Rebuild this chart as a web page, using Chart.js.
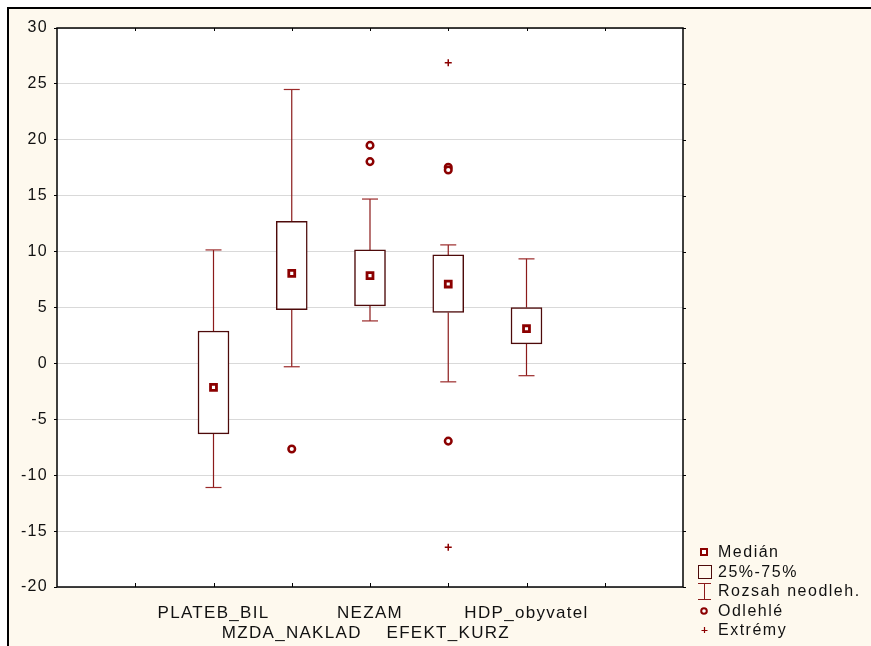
<!DOCTYPE html>
<html>
<head>
<meta charset="utf-8">
<script src="https://cdn.jsdelivr.net/npm/chart.js@4.4.1/dist/chart.umd.min.js"></script>
<style>
html, body { margin: 0; padding: 0; background: #fff; }
#frame { position: absolute; left: 7px; top: 7px; width: 864px; height: 639px; background: #fef9ee;
  border-top: 2px solid #000; border-left: 2px solid #000; box-sizing: border-box; }
#chart { position: absolute; left: 0; top: 0; }
#legend { position: absolute; left: 696px; top: 542px; font: 16px "Liberation Sans", Arial, sans-serif;
  letter-spacing: 1.5px; color: #111; }
.row { position: relative; height: 19.5px; line-height: 19.5px; padding-left: 22px; white-space: nowrap; }
.row svg { position: absolute; left: 0; top: 0; }
</style>
</head>
<body>
<div id="frame"></div>
<canvas id="chart" width="871" height="646"></canvas>
<div id="legend">
  <div class="row"><svg width="16" height="20"><rect x="5" y="7" width="6" height="6" fill="#fff" stroke="#8b0000" stroke-width="2"/></svg>Medián</div>
  <div class="row"><svg width="16" height="20"><rect x="2.5" y="3.5" width="13" height="13" fill="none" stroke="#4d0a0a" stroke-width="1"/></svg>25%-75%</div>
  <div class="row"><svg width="16" height="20"><path d="M8.5 2.5V18.5M2 2.5H15M2 18.5H15" stroke="#8b1a1a" stroke-width="1" fill="none"/></svg>Rozsah neodleh.</div>
  <div class="row"><svg width="16" height="20"><circle cx="8" cy="10" r="2.8" fill="#fff" stroke="#8b0000" stroke-width="2"/></svg>Odlehlé</div>
  <div class="row"><svg width="16" height="20"><path d="M8.5 7V13M5.5 10.5H11.5" stroke="#8b0000" stroke-width="1.2" fill="none"/></svg>Extrémy</div>
</div>
<script>
// variables and their positions on the x axis (0..8)
const categories = ['PLATEB_BIL', 'MZDA_NAKLAD', 'NEZAM', 'EFEKT_KURZ', 'HDP_obyvatel'];
const xPos = [2, 3, 4, 5, 6];

// box plot values
const medians = [-2.15, 8.05, 7.85, 7.1, 3.1];
const q1 = [-6.3, 4.8, 5.15, 4.55, 1.75];
const q3 = [2.9, 12.7, 10.15, 9.7, 5.0];
const whiskLow = [-11.1, -0.3, 3.8, -1.65, -1.1];
const whiskHigh = [10.15, 24.5, 14.7, 10.6, 9.35];
const outliers = [[], [-7.65], [19.5, 18.05], [17.55, 17.3, -6.95], []];
const extremes = [[], [], [], [26.9, -16.45], []];

const yMin = -20, yMax = 30, yStep = 5;

const dark = '#8b0000';

// whisker lines, broken with null between segments
let whiskerData = [];
xPos.forEach((x, i) => {
  whiskerData.push({x: x, y: whiskLow[i]}, {x: x, y: q1[i]}, {x: x, y: null});
  whiskerData.push({x: x, y: q3[i]}, {x: x, y: whiskHigh[i]}, {x: x, y: null});
});
let capData = [];
xPos.forEach((x, i) => { capData.push({x: x, y: whiskLow[i]}, {x: x, y: whiskHigh[i]}); });
const boxData = xPos.map((x, i) => ({x: x, y: [q1[i], q3[i]]}));
const medianData = xPos.map((x, i) => ({x: x, y: medians[i]}));
let outlierData = [], extremeData = [];
xPos.forEach((x, i) => {
  outliers[i].forEach(v => outlierData.push({x: x, y: v}));
  extremes[i].forEach(v => extremeData.push({x: x, y: v}));
});

const labelFor = {};
xPos.forEach((x, i) => { labelFor[x] = i % 2 === 0 ? categories[i] : ['', categories[i]]; });

const spacing = {
  id: 'spacing',
  beforeUpdate(chart) { chart.ctx.letterSpacing = '1.3px'; },
  beforeDraw(chart) { chart.ctx.letterSpacing = '1.3px'; }
};

const plotBg = {
  id: 'plotBg',
  beforeDraw(chart) {
    const {ctx, chartArea: a} = chart;
    ctx.save();
    ctx.fillStyle = '#fff';
    ctx.fillRect(a.left, a.top, a.right - a.left, a.bottom - a.top);
    ctx.restore();
  },
  afterDraw(chart) {
    const {ctx, chartArea: a, scales} = chart;
    ctx.save();
    ctx.strokeStyle = '#000';
    ctx.lineWidth = 1.5;
    ctx.strokeRect(a.left, a.top, a.right - a.left, a.bottom - a.top);
    ctx.lineWidth = 1;
    ctx.beginPath();
    scales.x.ticks.forEach(t => {
      if (t.value <= 0 || t.value >= 8) return;
      const px = Math.round(scales.x.getPixelForValue(t.value)) + 0.5;
      ctx.moveTo(px, a.top); ctx.lineTo(px, a.top + 3);
      ctx.moveTo(px, a.bottom); ctx.lineTo(px, a.bottom - 4);
    });
    scales.y.ticks.forEach(t => {
      const py = Math.round(scales.y.getPixelForValue(t.value)) + 0.5;
      ctx.moveTo(a.right, py); ctx.lineTo(a.right + 3, py);
    });
    ctx.stroke();
    ctx.restore();
  }
};

new Chart(document.getElementById('chart'), {
  type: 'scatter',
  data: {
    datasets: [
      {
        type: 'scatter', label: 'Medián', data: medianData, order: 0,
        pointStyle: 'rect', pointRadius: 4.2, pointBackgroundColor: '#fff',
        pointBorderColor: dark, pointBorderWidth: 2.8
      },
      {
        type: 'scatter', label: 'Odlehlé', data: outlierData, order: 1,
        pointStyle: 'circle', pointRadius: 3.3, pointBackgroundColor: '#fff',
        pointBorderColor: dark, pointBorderWidth: 2.5
      },
      {
        type: 'scatter', label: 'Extrémy', data: extremeData, order: 2,
        pointStyle: 'cross', pointRadius: 3.5, pointBorderColor: dark, pointBorderWidth: 1.5
      },
      {
        type: 'bar', label: '25%-75%', data: boxData, order: 3,
        backgroundColor: '#fff', borderColor: '#4d0a0a', borderWidth: 1.5,
        borderSkipped: false, barThickness: 31
      },
      {
        type: 'scatter', label: 'caps', data: capData, order: 4,
        pointStyle: 'line', pointRadius: 8, pointBorderColor: '#9b2a2a', pointBorderWidth: 1.2
      },
      {
        type: 'line', label: 'Rozsah neodleh.', data: whiskerData, order: 5,
        borderColor: '#8b1a1a', borderWidth: 1.2, pointRadius: 0, spanGaps: false, fill: false
      }
    ]
  },
  options: {
    responsive: false,
    animation: false,
    devicePixelRatio: 1,
    layout: { padding: { top: 28, right: 188, left: 0, bottom: 0 } },
    plugins: { legend: { display: false }, tooltip: { enabled: false } },
    scales: {
      x: {
        type: 'linear', min: 0, max: 8, offset: false,
        afterFit: s => { s.height = 59; },
        grid: { display: false },
        border: { display: false },
        ticks: {
          stepSize: 1, autoSkip: false, maxRotation: 0, padding: 8,
          color: '#111', font: { family: '"Liberation Sans", Arial, sans-serif', size: 17, lineHeight: 1.2 },
          callback: v => labelFor[v] || ''
        }
      },
      y: {
        type: 'linear', min: yMin, max: yMax,
        afterFit: s => { s.width = 57; },
        grid: { color: '#d9d9d9', lineWidth: 1, tickLength: 3, tickColor: '#000' },
        border: { display: false },
        ticks: {
          stepSize: yStep, padding: 6, color: '#111',
          font: { family: '"Liberation Sans", Arial, sans-serif', size: 16 }
        }
      }
    }
  },
  plugins: [spacing, plotBg]
});
</script>
</body>
</html>
